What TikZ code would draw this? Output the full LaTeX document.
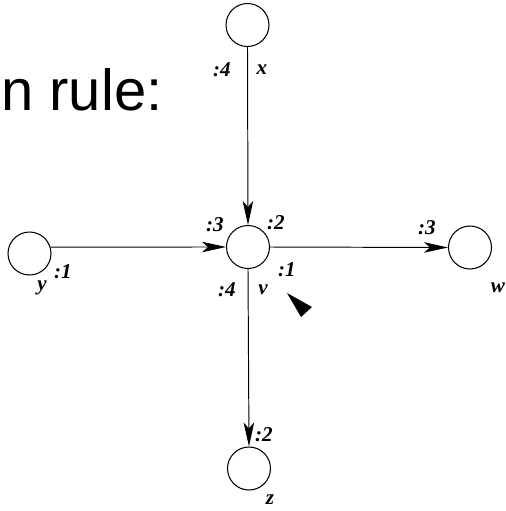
\documentclass[tikz,border=0pt]{standalone}
\usepackage{fontspec}
\setmainfont{Liberation Serif}
\newfontfamily\rulefont{Liberation Sans}
\usepackage{tikz}
\usetikzlibrary{arrows.meta, positioning}
\tikzstyle{vertex} = [circle, draw=black, line width=0.6pt, minimum size=0.86cm, inner sep=0pt]
\tikzstyle{port} = [font=\bfseries\itshape\fontsize{12}{14}\selectfont, inner sep=0pt]
\tikzstyle{arrow} = [line width=0.55pt, -{Stealth[length=0.48cm,width=0.21cm,inset=0.12cm]}]

\begin{document}
\begin{tikzpicture}[x=0.02cm, y=-0.02cm]
\useasboundingbox (0,0) rectangle (506,511);

\node[anchor=base west, inner sep=0pt, font=\rulefont\fontsize{33}{38}\selectfont] (title) at (1,110) {n rule:};

% the five vertices
\node[vertex] (x) at (247.5,25) {};
\node[vertex] (v) at (248,247) {};
\node[vertex] (y) at (29.5,253.5) {};
\node[vertex] (w) at (470,247.5) {};
\node[vertex] (z) at (249,468.5) {};

\draw[arrow] (x.south) -- (v.north);
\draw[arrow] (y.17) -- (v.west);
\draw[arrow] (v.east) -- (w.west);
\draw[arrow] (v.south) -- (z.north);

% port numbers and names
\node[port] (xport) at (222,70) {:4};
\node[port] (xname) at (262,70) {x};
\node[port] (vport3) at (215,225) {:3};
\node[port] (vport2) at (276,223) {:2};
\node[port] (vport1) at (287,270) {:1};
\node[port] (vport4) at (227,290) {:4};
\node[port] (vname) at (263,290) {v};
\node[port] (yport) at (63,272) {:1};
\node[port] (yname) at (42,288) {y};
\node[port] (wport) at (427,228) {:3};
\node[port] (wname) at (498,288) {w};
\node[port] (zport) at (264,435) {:2};
\node[port] (zname) at (270,500) {z};

\fill (287,293) -- (312,307) -- (301,317) -- cycle;
\end{tikzpicture}
\end{document}
